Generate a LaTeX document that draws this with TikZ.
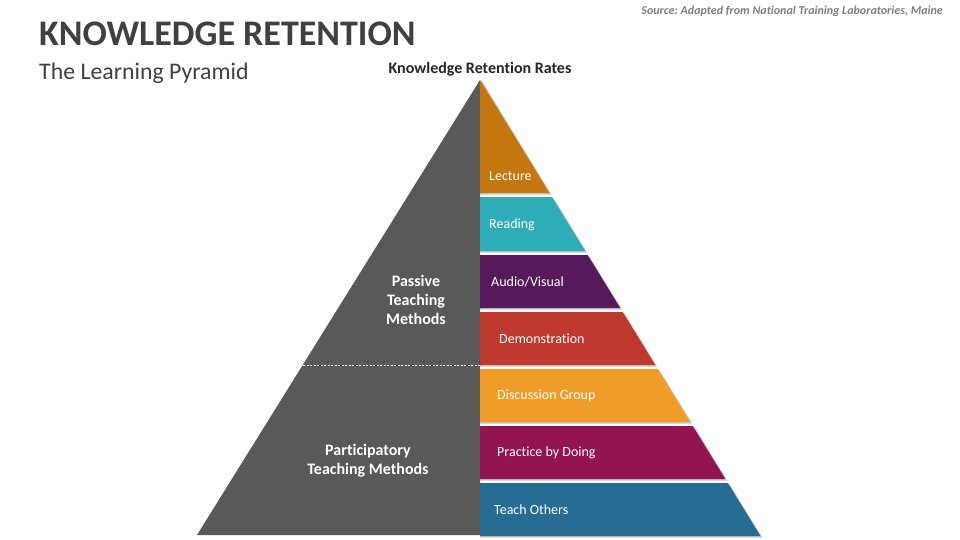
\documentclass[tikz,border=0pt]{standalone}
\usepackage{fontspec}
\setmainfont{Carlito}[Ligatures={NoCommon}]
\frenchspacing
\begin{document}
\begin{tikzpicture}[x=1pt,y=-1pt,
  lbl/.style={text=white,font=\fontsize{14}{16}\selectfont,anchor=west,inner sep=0pt},
  grouplbl/.style={text=white,font=\bfseries\fontsize{16}{19}\selectfont,align=center,inner sep=0pt},
  shadow/.style={fill=black!22}]
\definecolor{gray1}{HTML}{595959}
\definecolor{titlegray}{HTML}{404040}
\definecolor{srcgray}{HTML}{7F7F7F}
\definecolor{cLecture}{HTML}{C5770F}
\definecolor{cReading}{HTML}{2EACB8}
\definecolor{cAudio}{HTML}{561A5A}
\definecolor{cDemo}{HTML}{BE3A2F}
\definecolor{cDisc}{HTML}{F09C28}
\definecolor{cPract}{HTML}{921551}
\definecolor{cTeach}{HTML}{276C93}
\useasboundingbox (0,0) rectangle (960,540);
\fill[white] (0,0) rectangle (960,540);

% texts
\node[anchor=base west,inner sep=0pt,text=titlegray,font=\bfseries\fontsize{36}{42}\selectfont] (title) at (39,46) {KNOWLEDGE RETENTION};
\node[anchor=base west,inner sep=0pt,text=titlegray,font=\fontsize{23.8}{28}\selectfont] (subtitle) at (39,80) {The Learning Pyramid};
\node[anchor=base east,inner sep=0pt,text=srcgray,font=\bfseries\itshape\fontsize{12}{14}\selectfont] (source) at (943,15) {Source: Adapted from National Training Laboratories, Maine};
\node[anchor=base,inner sep=0pt,text=black!85,font=\bfseries\fontsize{16}{18}\selectfont] (rates) at (480,74) {Knowledge Retention Rates};

% gray left half
\fill[gray1] (480,80) -- (197,535) -- (480,535) -- cycle;
\draw[white,line width=0.6pt,dash pattern=on 2pt off 1.5pt] (303,365) -- (480,365);

% shadows
\fill[shadow] (481.5,80) -- ({480+0.615*(193-80)+1.8},194.5) -- (480,194.5) -- cycle;
\foreach \a/\b in {197/251,255/308,312/365,369/422,426/479,483/536}{
  \fill[shadow] (480,\a+1.5) -- ({480+0.615*(\a-80)+1.8},\a+1.5) -- ({480+0.615*(\b-80)+1.8},\b+1.5) -- (480,\b+1.5) -- cycle;
}

% lecture
\fill[cLecture] (480,80) -- ({480+0.615*(193-80)},193) -- (480,193) -- cycle;
% bands
\foreach \a/\b/\c in {197/251/cReading,255/308/cAudio,312/365/cDemo,369/422/cDisc,426/479/cPract,483/536/cTeach}{
  \fill[\c] (480,\a) -- ({480+0.615*(\a-80)},\a) -- ({480+0.615*(\b-80)},\b) -- (480,\b) -- cycle;
}

% labels
\node[lbl] (lecture) at (489,176.5) {Lecture};
\node[lbl] (reading) at (489,224.5) {Reading};
\node[lbl] (audio) at (491,281.5) {Audio/Visual};
\node[lbl] (demo) at (499,338.5) {Demonstration};
\node[lbl] (disc) at (497,395.5) {Discussion Group};
\node[lbl] (pract) at (497,452.5) {Practice by Doing};
\node[lbl] (teach) at (494,509.5) {Teach Others};

\node[grouplbl] (passive) at (416,300) {Passive\\Teaching\\Methods};
\node[grouplbl] (particip) at (368,461) {Participatory\\Teaching Methods};
\end{tikzpicture}
\end{document}
